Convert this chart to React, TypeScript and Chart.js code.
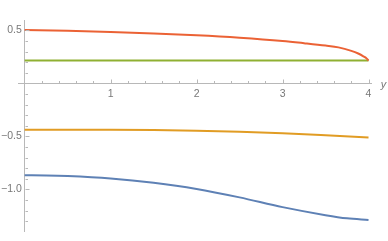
import React, { useEffect, useRef } from "react";
import { Chart, registerables } from "chart.js";

Chart.register(...registerables);

// ---- data ----
const blueX = [0, 0.25, 0.5, 1, 1.5, 2, 2.5, 3, 3.5, 3.75, 4];
const blueY = [-0.867, -0.869, -0.875, -0.898, -0.938, -0.996, -1.076, -1.168, -1.244, -1.274, -1.29];

const orangeX = [0, 0.5, 1, 1.5, 2, 2.5, 3, 3.5, 4];
const orangeY = [-0.437, -0.437, -0.438, -0.441, -0.447, -0.456, -0.47, -0.489, -0.51];

const greenX = [0, 4];
const greenY = [0.215, 0.215];

const redX = [0, 0.5, 1, 1.5, 2, 2.5, 3, 3.25, 3.5, 3.65, 3.8, 3.88, 3.94, 3.98, 4];
const redY = [0.503, 0.497, 0.486, 0.472, 0.455, 0.432, 0.401, 0.38, 0.357, 0.34, 0.307, 0.282, 0.256, 0.234, 0.215];

const xTickValues = [1, 2, 3, 4];
const xTickLabels = ["1", "2", "3", "4"];
const yTickValues = [0.5, -0.5, -1.0];
const yTickLabels = ["0.5", "\u22120.5", "\u22121.0"];
const xAxisLabel = "y";

const X_MIN = -0.074;
const X_MAX = 4.037;
const Y_MIN = -1.4;
const Y_MAX = 0.59;

const AXIS_COLOR = "#b8b8b8";
const LABEL_COLOR = "#787878";
const FONT = "'Liberation Sans', Arial, sans-serif";

const toPoints = (xs: number[], ys: number[]) => xs.map((x, i) => ({ x, y: ys[i] }));

export default function App() {
  const ref = useRef<HTMLCanvasElement>(null);

  useEffect(() => {
    if (!ref.current) return;

    const ticksPlugin = {
      id: "mmaTicks",
      afterDatasetsDraw(chart: any) {
        const { ctx } = chart;
        const xs = chart.scales.x;
        const ys = chart.scales.y;
        const x0 = Math.round(xs.getPixelForValue(0)) + 0.5;
        const y0 = Math.round(ys.getPixelForValue(0)) + 0.5;
        ctx.save();
        ctx.strokeStyle = AXIS_COLOR;
        ctx.lineWidth = 1;
        ctx.beginPath();
        for (let i = 1; i <= 20; i++) {
          const px = Math.round(xs.getPixelForValue(i * 0.2)) + 0.5;
          const major = i % 5 === 0;
          ctx.moveTo(px, y0);
          ctx.lineTo(px, y0 - (major ? 4 : 2.5));
        }
        for (let i = -13; i <= 5; i++) {
          if (i === 0) continue;
          const py = Math.round(ys.getPixelForValue(i * 0.1)) + 0.5;
          const major = i % 5 === 0;
          ctx.moveTo(x0, py);
          ctx.lineTo(x0 + (major ? 4 : 2.5), py);
        }
        ctx.stroke();
        ctx.fillStyle = LABEL_COLOR;
        ctx.font = "italic 11px " + FONT;
        ctx.textAlign = "left";
        ctx.textBaseline = "middle";
        ctx.fillText(xAxisLabel, xs.right + 9, y0 + 1.5);
        ctx.restore();
      },
    };

    const line = (data: any, color: string, order: number) => ({
      data,
      borderColor: color,
      backgroundColor: color,
      borderWidth: 2,
      pointRadius: 0,
      fill: false,
      cubicInterpolationMode: "monotone" as const,
      order,
    });

    const chart = new Chart(ref.current, {
      type: "line",
      data: {
        datasets: [
          line(toPoints(blueX, blueY), "#5e81b5", 4),
          line(toPoints(orangeX, orangeY), "#e19c24", 3),
          line(toPoints(greenX, greenY), "#8fb032", 2),
          line(toPoints(redX, redY), "#eb6235", 1),
        ],
      },
      options: {
        animation: false,
        responsive: false,
        maintainAspectRatio: false,
        layout: { padding: { left: 18.3, right: 16.3, top: 20.9, bottom: 0.6 } },
        plugins: { legend: { display: false }, tooltip: { enabled: false }, title: { display: false } },
        scales: {
          x: {
            type: "linear",
            min: X_MIN,
            max: X_MAX,
            position: { y: 0 } as any,
            grid: { display: false, drawTicks: false },
            border: { display: true, color: AXIS_COLOR, width: 1 },
            afterFit: (s: any) => { s.height = 0; },
            afterBuildTicks: (s: any) => { s.ticks = xTickValues.map((v) => ({ value: v })); },
            ticks: {
              padding: 4,
              color: LABEL_COLOR,
              font: { family: FONT, size: 10.5 },
              maxRotation: 0,
              autoSkip: false,
              callback: (v: any) => { const i = xTickValues.indexOf(Number(v)); return i >= 0 ? xTickLabels[i] : ""; },
            },
          },
          y: {
            type: "linear",
            min: Y_MIN,
            max: Y_MAX,
            position: { x: 0 } as any,
            grid: { display: false, drawTicks: false },
            border: { display: true, color: AXIS_COLOR, width: 1 },
            afterFit: (s: any) => { s.width = 0; },
            afterBuildTicks: (s: any) => { s.ticks = yTickValues.map((v) => ({ value: v })); },
            ticks: {
              padding: 3,
              color: LABEL_COLOR,
              font: { family: FONT, size: 10.5 },
              autoSkip: false,
              callback: (v: any) => {
                const i = yTickValues.findIndex((t) => Math.abs(t - Number(v)) < 1e-9);
                return i >= 0 ? yTickLabels[i] + " " : "";
              },
            },
          },
        },
      },
      plugins: [ticksPlugin],
    });

    return () => chart.destroy();
  }, []);

  return (
    <div style={{ position: "fixed", left: 0, top: 0, width: 388, height: 241, background: "#fff" }}>
      <canvas ref={ref} width={388} height={241} style={{ width: 388, height: 241, display: "block" }} />
    </div>
  );
}
